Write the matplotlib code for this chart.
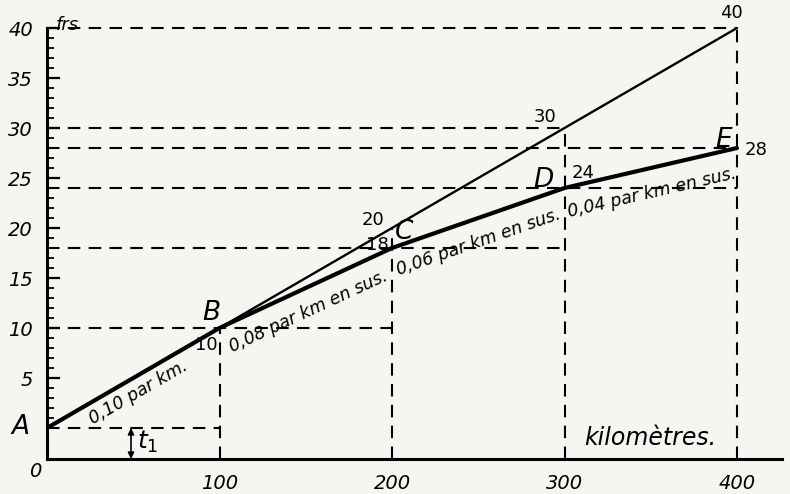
import matplotlib
matplotlib.use("Agg")
import matplotlib.pyplot as plt
import numpy as np

# ---- data ----
x_km = [0, 100, 200, 300, 400]
tarif_base = [0, 10, 20, 30, 40]          # thin line, 0,10 par km
tarif_diff = [0, 10, 18, 24, 28]          # thick line, differential
point_names = ["A", "B", "C", "D", "E"]
rate_labels = ["0,10 par km.", "0,08 par km en sus.", "0,06 par km en sus.", "0,04 par km en sus."]
ytick_major = [5, 10, 15, 20, 25, 30, 35, 40]
xtick_labels = [100, 200, 300, 400]
t1 = 3.1

W, H = 790, 494
fig = plt.figure(figsize=(W / 100, H / 100), dpi=100)
bg = "#f5f5f1"
fig.patch.set_facecolor(bg)

# axes: left spine at pixel 47, bottom at pixel 459
ax_left = 47 / W
ax_bottom = (H - 459) / H
ax = fig.add_axes([ax_left, ax_bottom, 1 - ax_left, 1 - ax_bottom])
ax.set_facecolor(bg)
ax.set_xlim(0, (W - 47) / 1.725)
ax.set_ylim(-t1, -t1 + 459 / 10)

for s in ["top", "right"]:
    ax.spines[s].set_visible(False)
ax.spines["left"].set_bounds(-t1, 40)
ax.spines["bottom"].set_bounds(0, 426)
for s in ["left", "bottom"]:
    ax.spines[s].set_linewidth(2.2)
    ax.spines[s].set_color("black")

ax.set_yticks(ytick_major)
ax.set_yticklabels([str(v) for v in ytick_major], fontsize=14, fontstyle="italic", fontweight="medium")
ax.set_yticks(np.arange(0, 41, 1), minor=True)
ax.tick_params(axis="y", which="major", direction="in", length=9, width=1.6, pad=10)
ax.tick_params(axis="y", which="minor", direction="in", length=5, width=1.3)
ax.set_xticks(xtick_labels)
ax.set_xticklabels([str(v) for v in xtick_labels], fontsize=14, fontstyle="italic", fontweight="medium")
ax.tick_params(axis="x", length=0, pad=11)

dash = dict(color="black", lw=1.5, ls=(0, (6, 4)))
# horizontal dashed lines
for i in range(len(x_km)):
    xend = x_km[min(i + 1, len(x_km) - 1)]
    ax.plot([0, xend], [tarif_diff[i], tarif_diff[i]], **dash)
for i in [3, 4]:
    ax.plot([0, x_km[i]], [tarif_base[i], tarif_base[i]], **dash)
# vertical dashed lines
for i in range(1, len(x_km)):
    ax.plot([x_km[i], x_km[i]], [-t1, tarif_base[i]], **dash)

# lines
ax.plot(x_km, tarif_base, color="black", lw=1.7, solid_capstyle="round")
ax.plot(x_km, tarif_diff, color="black", lw=3.0, solid_joinstyle="round", solid_capstyle="round")

tfont = dict(fontstyle="italic", color="black")
# point letters
letter_pos = [(-15.7, 0.1), (95, 11.5), (207, 19.6), (288, 24.8), (392.5, 28.8)]
for name, (px, py) in zip(point_names, letter_pos):
    ax.text(px, py, name, fontsize=19, ha="center", va="center", clip_on=False, **tfont)

# value annotations
vals = [("10", 92.2, 8.3), ("20", 189, 20.8), ("18", 191.3, 18.3), ("30", 288.7, 31.1),
        ("40", 396.5, 41.5), ("24", 310.7, 25.5), ("28", 411, 27.8)]
for t, px, py in vals:
    ax.text(px, py, t, fontsize=13, ha="center", va="center", fontweight="medium")

# rate labels along segments
rate_pos = [(52.8, 3.6), (151.3, 11.6), (249.9, 18.6), (350.7, 23.5)]
fig.canvas.draw()
for i, (lab, (px, py)) in enumerate(zip(rate_labels, rate_pos)):
    p0 = ax.transData.transform((x_km[i], tarif_diff[i]))
    p1 = ax.transData.transform((x_km[i + 1], tarif_diff[i + 1]))
    ang = np.degrees(np.arctan2(p1[1] - p0[1], p1[0] - p0[0]))
    ax.text(px, py, lab, fontsize=12.5, rotation=ang, rotation_mode="anchor",
            ha="center", va="center", fontweight="medium", **tfont)

ax.text(11.6, 40.3, "frs", fontsize=13, ha="center", va="center", **tfont)
ax.text(-7, -4.3, "0", fontsize=14, ha="center", va="center", clip_on=False, **tfont)
ax.text(349.6, -1.0, "kilomètres.", fontsize=17, ha="center", va="center", **tfont)
ax.text(58.6, -1.4, "$t_1$", fontsize=18, ha="center", va="center")
ax.annotate("", xy=(48.7, 0), xytext=(48.7, -t1),
            arrowprops=dict(arrowstyle="<|-|>", color="black", lw=1.2,
                            mutation_scale=9, shrinkA=0, shrinkB=0))

fig.savefig("out.png", dpi=100, facecolor=bg)
